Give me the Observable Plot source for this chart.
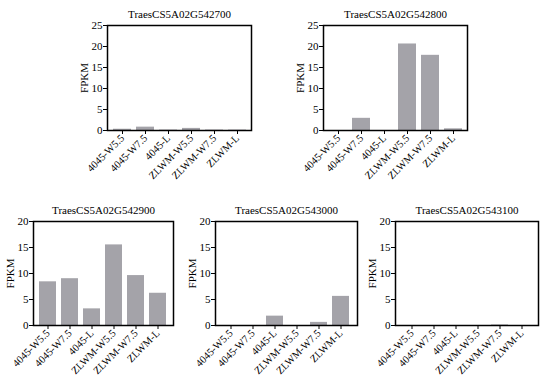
<!DOCTYPE html>
<html><head><meta charset="utf-8">
<script src="https://cdn.jsdelivr.net/npm/d3@7"></script>
<script src="https://cdn.jsdelivr.net/npm/@observablehq/plot@0.6"></script>
<style>
body{margin:0;background:#fff;}
#wrap{position:relative;width:550px;height:384px;overflow:hidden;}
.p{position:absolute;}
#wrap svg, #wrap svg text{font-family:"Liberation Serif", serif !important;font-weight:400 !important;}
</style></head>
<body><div id="wrap"></div>
<script>
const samples = ["4045-W5.5","4045-W7.5","4045-L","ZLWM-W5.5","ZLWM-W7.5","ZLWM-L"];
const genes = ["TraesCS5A02G542700","TraesCS5A02G542800","TraesCS5A02G542900","TraesCS5A02G543000","TraesCS5A02G543100"];
const v542700 = [0.3, 0.8, 0.1, 0.5, 0.1, 0.1];
const v542800 = [0.0, 2.9, 0.0, 20.6, 17.9, 0.4];
const v542900 = [8.4, 9.0, 3.2, 15.5, 9.6, 6.2];
const v543000 = [0.0, 0.0, 1.8, 0.0, 0.6, 5.6];
const v543100 = [0.0, 0.0, 0.0, 0.0, 0.1, 0.0];
const yMaxTop = 25, yMaxBottom = 20;
const yTicksTop = [0,5,10,15,20,25];
const yTicksBottom = [0,5,10,15,20];

const wrap = document.getElementById("wrap");
function panel(title, values, ymax, ticks, L, T, W, H, m) {
  const data = samples.map((s,i)=>({sample:s, value:values[i]}));
  const chart = Plot.plot({
    width: W, height: H,
    marginLeft: m[0], marginRight: m[1], marginTop: m[2], marginBottom: m[3],
    style: {fontSize: "11px", color: "#000", background: "#fff"},
    x: {domain: samples, padding: 0.22},
    y: {domain: [0, ymax]},
    marks: [
      Plot.barY(data, {x: "sample", y: "value", fill: "#a4a3a9"}),
      Plot.axisY({ticks: ticks, tickSize: 4, tickPadding: 1, fontSize: 11, label: "FPKM", labelAnchor: "center", labelArrow: "none", labelOffset: 27}),
      Plot.axisX({tickSize: 4, tickRotate: -45, tickPadding: 2, fontSize: 10.5, label: null}),
      Plot.frame({stroke: "#000", strokeWidth: 1.5}),
      Plot.text([title], {text: d=>d, frameAnchor: "top", dy: -15, fontSize: 11})
    ]
  });
  chart.classList.add("p");
  chart.style.left = L + "px";
  chart.style.top = T + "px";
  wrap.appendChild(chart);
}
panel(genes[0], v542700, yMaxTop, yTicksTop, 60, 0, 200, 190, [47, 9, 25, 60]);
panel(genes[1], v542800, yMaxTop, yTicksTop, 276, 0, 200, 190, [47, 9, 25, 60]);
panel(genes[2], v542900, yMaxBottom, yTicksBottom, 0, 190, 180, 194, [33, 7, 31, 59]);
panel(genes[3], v543000, yMaxBottom, yTicksBottom, 182, 190, 180, 194, [33, 5, 31, 59]);
panel(genes[4], v543100, yMaxBottom, yTicksBottom, 362, 190, 185, 194, [33, 9, 31, 59]);
</script></body></html>
